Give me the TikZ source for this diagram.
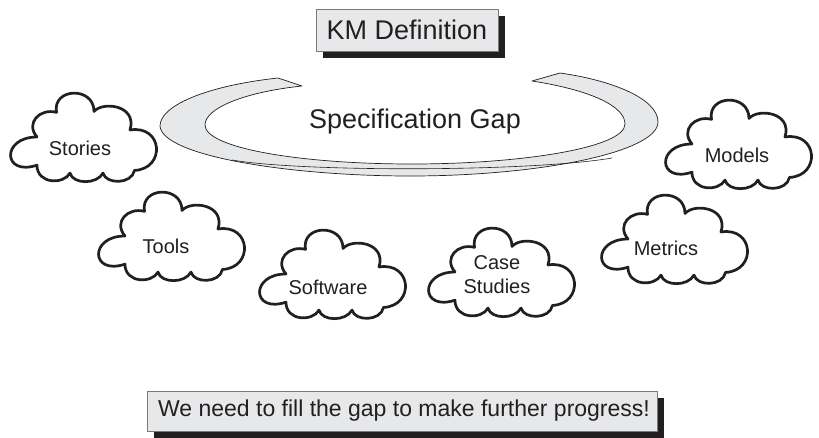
\documentclass[tikz,border=0pt]{standalone}
\usepackage{fontspec}
\setmainfont{Liberation Sans}
\definecolor{boxfill}{HTML}{E7E8E9}
\definecolor{boxline}{HTML}{7A7A7A}
\definecolor{ink}{HTML}{231F20}
\tikzset{
  cloudline/.style={draw=ink, line width=2.7pt, fill=white, line join=round},
  cloudtext/.style={font=\fontsize{20}{22}\selectfont, text=ink, align=center, inner sep=0pt},
  banner/.style={fill=boxfill, draw=boxline, line width=0.8pt},
  bannershadow/.style={fill=ink, draw=none},
  bannertext/.style={font=\fontsize{27}{30}\selectfont, text=ink, inner sep=0pt},
  swoosh/.style={fill=boxfill, draw=ink, line width=0.7pt, line join=round}
}
% cloud outline in a unit box (u right, v down), placed with its top-left corner at #1,#2
\newcommand{\cloudshape}[2]{%
  \begin{scope}[shift={(#1,#2)}, xscale=150, yscale=88]
    \path[cloudline]
      (0.20,0.82) .. controls (-0.03,0.95) and (-0.04,0.50) .. (0.20,0.50)
      .. controls (0.12,0.34) and (0.22,0.17) .. (0.33,0.22)
      .. controls (0.30,-0.06) and (0.58,-0.08) .. (0.58,0.21)
      .. controls (0.64,0.09) and (0.87,0.14) .. (0.82,0.42)
      .. controls (1.04,0.36) and (1.06,0.86) .. (0.85,0.88)
      .. controls (0.83,1.04) and (0.66,1.04) .. (0.64,0.91)
      .. controls (0.60,1.04) and (0.44,1.04) .. (0.42,0.91)
      .. controls (0.38,1.04) and (0.20,1.04) .. cycle;
  \end{scope}}
\begin{document}
\begin{tikzpicture}[x=1pt, y=-1pt]
  \useasboundingbox (0,0) rectangle (819,437);

  % title banner
  \fill[bannershadow] (323,16) rectangle (505,58);
  \draw[banner] (316,9) rectangle (498,51);
  \node[bannertext] (title) at (407,30) {KM Definition};

  % open ring around the gap label
  \path[swoosh]
    (278,78) .. controls (205,86) and (160,106) .. (160,126)
    .. controls (162,156) and (290,176) .. (410,176)
    .. controls (540,176) and (658,152) .. (658,122)
    .. controls (658,98) and (610,80) .. (560,73)
    -- (532,81)
    .. controls (590,90) and (625,106) .. (625,124)
    .. controls (625,148) and (520,164) .. (412,164)
    .. controls (300,164) and (205,148) .. (205,125)
    .. controls (205,108) and (245,92) .. (302,86)
    -- cycle;
  \draw[ink, line width=0.6pt] (232,160) .. controls (300,172) and (530,172) .. (612,158);
  \node[bannertext] (gap) at (415,122) {Specification Gap};

  % clouds
  \cloudshape{7}{93}
  \node[cloudtext] (stories) at (80,148) {Stories};
  \cloudshape{95}{192}
  \node[cloudtext] (tools) at (166,246) {Tools};
  \cloudshape{256}{230}
  \node[cloudtext] (software) at (328,287) {Software};
  \cloudshape{425}{228}
  \node[cloudtext] (cases) at (497,275) {Case\\[2pt]Studies};
  \cloudshape{598}{195}
  \node[cloudtext] (metrics) at (666,248) {Metrics};
  \cloudshape{662}{100}
  \node[cloudtext] (models) at (737,155) {Models};

  % closing banner
  \fill[bannershadow] (154,398) rectangle (664,440);
  \draw[banner] (147,391) rectangle (657,431);
  \node[bannertext, font=\fontsize{23}{26}\selectfont] (progress) at (404,411) {We need to fill the gap to make further progress!};
\end{tikzpicture}
\end{document}
